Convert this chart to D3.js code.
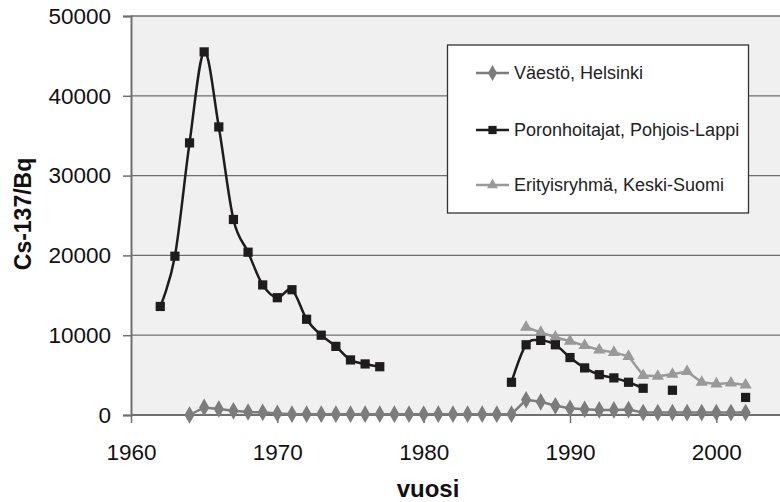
<!DOCTYPE html>
<html>
<head>
<meta charset="utf-8">
<script src="https://cdn.jsdelivr.net/npm/d3@7"></script>
<style>
  body { margin: 0; background: #fff; }
  svg { display: block; font-family: Arial, "Liberation Sans", sans-serif; }
</style>
</head>
<body>
<div id="chart"></div>
<script>
var years = d3.range(1962, 2003);

var helsinki = [
  null, null, 0, 950, 750, 520, 380, 330, 200, 100,
  100, 100, 100, 100, 100, 100, 100, 100, 100, 100,
  100, 100, 100, 100, 100, 1900, 1650, 1150, 850, 720,
  640, 640, 680, 300, 300, 300, 300, 300, 300, 300,
  300
];

var poronhoitajat = [
  13600, 19900, 34100, 45500, 36100, 24500, 20400, 16300, 14700, 15700,
  12000, 10000, 8600, 6900, 6400, 6050, null, null, null, null,
  null, null, null, null, 4100, 8800, 9350, 8800, 7200, 5900,
  5050, 4650, 4100, 3350, null, 3100, null, null, null, null,
  2200
];

var erityisryhma = [
  null, null, null, null, null, null, null, null, null, null,
  null, null, null, null, null, null, null, null, null, null,
  null, null, null, null, null, 11000, 10350, 9750, 9250, 8700,
  8150, 7850, 7350, 4950, 4850, 5100, 5450, 4100, 3900, 4000,
  3750
];

var seriesNames = ["Väestö, Helsinki", "Poronhoitajat, Pohjois-Lappi", "Erityisryhmä, Keski-Suomi"];
var xTicks = [1960, 1970, 1980, 1990, 2000];
var yTicks = [0, 10000, 20000, 30000, 40000, 50000];

var W = 780, H = 502;
var svg = d3.select("#chart").append("svg")
  .attr("width", W)
  .attr("height", H);

// plot area runs past the right edge of the picture (cropped original)
var x = d3.scaleLinear().domain([1960, 2005]).range([131, 789.5]);
var y = d3.scaleLinear().domain([0, 50000]).range([415, 16]);

svg.append("rect")
  .attr("x", x(1960)).attr("y", y(50000))
  .attr("width", W - x(1960)).attr("height", y(0) - y(50000))
  .attr("fill", "#f0f0f0");

// gridlines
svg.selectAll(".grid")
  .data(yTicks.filter(function(d) { return d > 0; }))
  .enter().append("line")
  .attr("class", "grid")
  .attr("x1", x(1960)).attr("x2", W)
  .attr("y1", function(d) { return y(d); })
  .attr("y2", function(d) { return y(d); })
  .attr("stroke", "#6e6e6e")
  .attr("stroke-width", 1.3);

// axes
var yAxis = svg.append("g")
  .attr("transform", "translate(" + x(1960) + ",0)")
  .call(d3.axisLeft(y).tickValues(yTicks).tickSize(8).tickPadding(12).tickFormat(d3.format("d")));

var xAxis = svg.append("g")
  .attr("transform", "translate(0," + y(0) + ")")
  .call(d3.axisBottom(x).tickValues(xTicks).tickSize(8).tickPadding(21).tickFormat(d3.format("d")));

[yAxis, xAxis].forEach(function(g) {
  g.select(".domain").attr("stroke", "#707070").attr("stroke-width", 2);
  g.selectAll(".tick line").attr("stroke", "#707070").attr("stroke-width", 1.5);
  g.selectAll(".tick text")
    .attr("fill", "#111")
    .attr("font-size", 22.5)
    .attr("font-family", "Arial, 'Liberation Sans', sans-serif");
});
xAxis.select(".domain").attr("d", "M" + x(1960) + ",0H" + W);

// axis titles
svg.append("text")
  .attr("x", 428).attr("y", 497)
  .attr("text-anchor", "middle")
  .attr("font-size", 24).attr("font-weight", "bold").attr("fill", "#111")
  .text("vuosi");

svg.append("text")
  .attr("transform", "translate(31,214) rotate(-90)")
  .attr("text-anchor", "middle")
  .attr("font-size", 23).attr("font-weight", "bold").attr("fill", "#111")
  .text("Cs-137/Bq");

function pts(vals) {
  return years.map(function(yr, i) { return { year: yr, v: vals[i] }; });
}

var lineLinear = d3.line()
  .defined(function(d) { return d.v !== null; })
  .x(function(d) { return x(d.year); })
  .y(function(d) { return y(d.v); });

var lineSmooth = d3.line()
  .defined(function(d) { return d.v !== null; })
  .x(function(d) { return x(d.year); })
  .y(function(d) { return y(d.v); })
  .curve(d3.curveCatmullRom.alpha(0));

var series = [
  { name: seriesNames[0], data: pts(helsinki), color: "#7c7c7c", line: lineLinear, sym: d3.symbolDiamond, size: 90, width: 2.5 },
  { name: seriesNames[1], data: pts(poronhoitajat), color: "#1e1c1c", line: lineSmooth, sym: d3.symbolSquare, size: 85, width: 2.5 },
  { name: seriesNames[2], data: pts(erityisryhma), color: "#999999", line: lineLinear, sym: d3.symbolTriangle, size: 65, width: 2.5 }
];

// draw in order: triangles behind, squares, diamonds on top
[series[2], series[1], series[0]].forEach(function(s) {
  svg.append("path")
    .attr("d", s.line(s.data))
    .attr("fill", "none")
    .attr("stroke", s.color)
    .attr("stroke-width", s.width);

  svg.selectAll(null)
    .data(s.data.filter(function(d) { return d.v !== null; }))
    .enter().append("path")
    .attr("d", d3.symbol().type(s.sym).size(s.size))
    .attr("transform", function(d) { return "translate(" + x(d.year) + "," + y(d.v) + ")"; })
    .attr("fill", s.color);
});

// legend
var leg = svg.append("g");
leg.append("rect")
  .attr("x", 447.5).attr("y", 45)
  .attr("width", 301).attr("height", 168)
  .attr("fill", "#fff")
  .attr("stroke", "#333")
  .attr("stroke-width", 1.3);

var legY = [73, 130, 185];
series.forEach(function(s, i) {
  leg.append("line")
    .attr("x1", 476).attr("x2", 509)
    .attr("y1", legY[i]).attr("y2", legY[i])
    .attr("stroke", s.color).attr("stroke-width", 2.5);
  leg.append("path")
    .attr("d", d3.symbol().type(s.sym).size(s.size * 0.8))
    .attr("transform", "translate(492.5," + legY[i] + ")")
    .attr("fill", s.color);
  leg.append("text")
    .attr("x", 514).attr("y", legY[i])
    .attr("dy", "0.35em")
    .attr("font-size", 18).attr("fill", "#222")
    .text(s.name);
});
</script>
</body>
</html>
